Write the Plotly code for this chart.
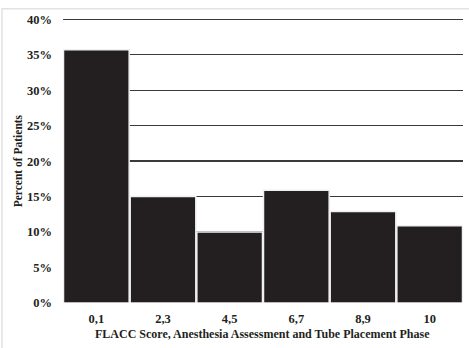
import plotly.graph_objects as go

categories = ["0,1", "2,3", "4,5", "6,7", "8,9", "10"]
percent_patients = [35.7, 15.0, 10.0, 15.9, 12.9, 10.9]
y_ticks = [0, 5, 10, 15, 20, 25, 30, 35, 40]
y_tick_labels = ["0%", "5%", "10%", "15%", "20%", "25%", "30%", "35%", "40%"]
x_title = "FLACC Score, Anesthesia Assessment and Tube Placement Phase"
y_title = "Percent of Patients"

font_family = "Liberation Serif, Times New Roman, serif"
ink = "#231f20"

# plot area geometry (pixels)
L, R, T, B = 63, 6, 14.7, 45.3
W, H = 469, 348
pw, ph = W - L - R, H - T - B
y0_px = H - B


def px_x(x):
    return (x - L) / pw


def px_y(y):
    return (y0_px - y) / ph


fig = go.Figure(
    go.Bar(
        x=categories,
        y=percent_patients,
        marker=dict(color=ink, line=dict(color="#f0f0f0", width=1.5)),
        width=0.985,
        hoverinfo="skip",
    )
)

fig.update_layout(
    width=W,
    height=H,
    margin=dict(l=L, r=R, t=T, b=B, autoexpand=False),
    paper_bgcolor="white",
    plot_bgcolor="white",
    showlegend=False,
    bargap=0,
    font=dict(family=font_family, size=12, color=ink),
    xaxis=dict(
        showgrid=False,
        showline=False,
        zeroline=False,
        ticks="",
        automargin=False,
        ticklabelstandoff=6,
        tickfont=dict(family=font_family, size=12.5, color=ink, weight="bold"),
    ),
    yaxis=dict(
        range=[0, 40.6],
        tickvals=y_ticks,
        ticktext=y_tick_labels,
        showgrid=True,
        gridcolor="#3a3a3a",
        gridwidth=1.3,
        zeroline=False,
        showline=False,
        ticks="",
        automargin=False,
        ticklabelstandoff=10,
        tickfont=dict(family=font_family, size=12.5, color=ink, weight="bold"),
    ),
    annotations=[
        dict(
            text="<b>" + x_title + "</b>", xref="paper", yref="paper",
            x=px_x(262), y=px_y(334),
            xanchor="center", yanchor="middle", showarrow=False,
            font=dict(family=font_family, size=12, color=ink),
        ),
        dict(
            text="<b>" + y_title + "</b>", xref="paper", yref="paper",
            x=px_x(18), y=px_y(161),
            xanchor="center", yanchor="middle", showarrow=False, textangle=-90,
            font=dict(family=font_family, size=11.5, color=ink),
        ),
    ],
    shapes=[
        dict(
            type="rect", xref="paper", yref="paper",
            x0=px_x(2), x1=px_x(472),
            y0=px_y(360), y1=px_y(8.5),
            line=dict(color="#e2e2e2", width=1.5),
            fillcolor="rgba(0,0,0,0)",
            layer="below",
        )
    ],
)

fig.write_html(
    "out.html",
    config={"displayModeBar": False, "staticPlot": True},
    post_script="document.body.style.margin='0';document.body.style.overflow='hidden';",
)
